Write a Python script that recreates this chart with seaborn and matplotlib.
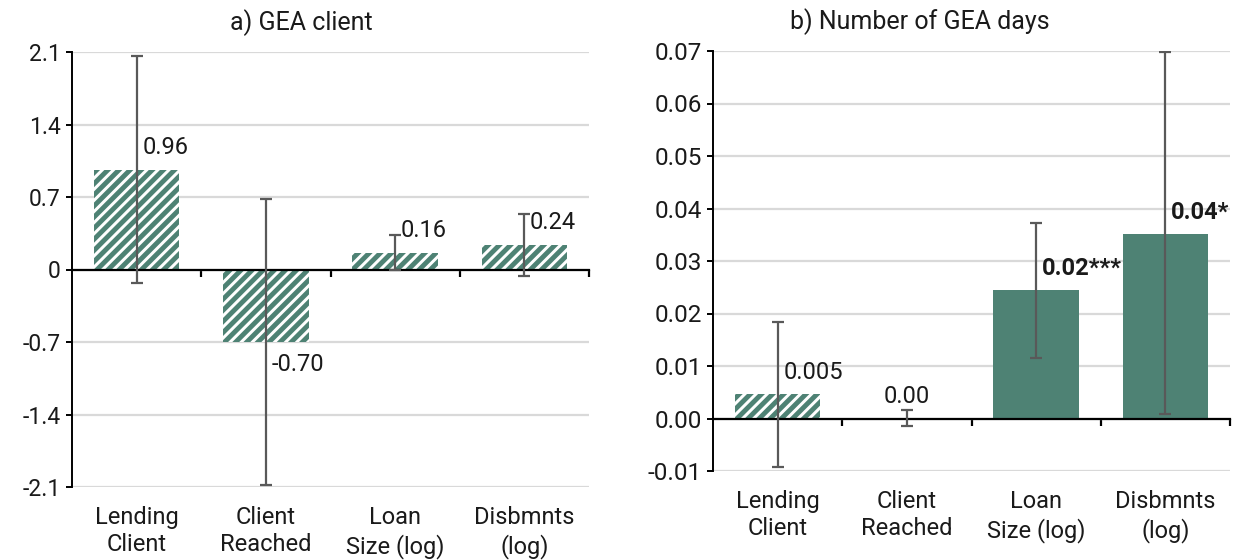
import matplotlib
matplotlib.use("Agg")
import matplotlib.pyplot as plt
import seaborn as sns
from matplotlib.ticker import FixedLocator, FuncFormatter

# Regression coefficients with 95% confidence bounds, by outcome
categories = ["Lending\nClient", "Client\nReached", "Loan\nSize (log)", "Disbmnts\n(log)"]

client_coef = [0.96, -0.70, 0.16, 0.24]
client_low = [-0.13, -2.08, 0.00, -0.06]
client_high = [2.06, 0.68, 0.33, 0.54]
client_stars = ["", "", "", ""]
client_decimals = [2, 2, 2, 2]
client_ticks = [-2.1, -1.4, -0.7, 0.0, 0.7, 1.4, 2.1]

days_coef = [0.0046, 0.0, 0.0244, 0.0351]
days_low = [-0.0092, -0.0015, 0.0115, 0.0008]
days_high = [0.0183, 0.0017, 0.0372, 0.0698]
days_stars = ["", "", "***", "*"]
days_decimals = [3, 2, 2, 2]
days_ticks = [-0.01, 0.0, 0.01, 0.02, 0.03, 0.04, 0.05, 0.06, 0.07]

TEAL = "#4e8274"
ERR = "#595959"
GRID = "#d9d9d9"
TEXT = "#1a1a1a"

sns.set_theme(style="white")
plt.rcParams["font.family"] = ["Roboto", "DejaVu Sans"]
plt.rcParams["hatch.linewidth"] = 3.5
plt.rcParams["text.color"] = TEXT

W, H = 1233, 560
fig = plt.figure(figsize=(W / 100, H / 100), dpi=100)


def px_box(x0, y0, x1, y1):
    return [x0 / W, 1 - y1 / H, (x1 - x0) / W, (y1 - y0) / H]


def panel(ax, coef, low, high, stars, decimals, ticks, tick_fmt, tick_size, lab_size, lab_off):
    n = len(coef)
    xs = list(range(n))
    sns.barplot(x=xs, y=coef, color=TEAL, width=0.66, saturation=1, ax=ax)
    for patch, s in zip(ax.patches, stars):
        patch.set_linewidth(0)
        if s == "":
            patch.set_facecolor("white")
            patch.set_edgecolor(TEAL)
            patch.set_hatch("///")
        else:
            patch.set_facecolor(TEAL)
            patch.set_edgecolor(TEAL)
    yerr = [[c - lo for c, lo in zip(coef, low)], [hi - c for c, hi in zip(coef, high)]]
    ax.errorbar(xs, coef, yerr=yerr, fmt="none", ecolor=ERR, elinewidth=1.6,
                capsize=4, capthick=1.6, zorder=4)

    ax.set_xlim(-0.5, n - 0.5)
    ax.set_ylim(ticks[0], ticks[-1])
    ax.yaxis.set_major_locator(FixedLocator(ticks))
    ax.yaxis.set_major_formatter(FuncFormatter(tick_fmt))
    ax.grid(axis="y", color=GRID, linewidth=1.6)
    ax.set_axisbelow(True)
    ax.tick_params(axis="y", which="major", left=True, direction="out", length=4,
                   width=1.4, color="black", labelsize=tick_size, labelcolor=TEXT, pad=4)

    # horizontal axis sits on the zero line, ticks mark category boundaries
    for side in ("top", "right"):
        ax.spines[side].set_visible(False)
    ax.spines["left"].set_color("black")
    ax.spines["left"].set_linewidth(1.4)
    ax.spines["bottom"].set_position(("data", 0))
    ax.spines["bottom"].set_color("black")
    ax.spines["bottom"].set_linewidth(1.6)
    ax.xaxis.set_major_locator(FixedLocator([]))
    ax.xaxis.set_minor_locator(FixedLocator([i + 0.5 for i in range(n)]))
    ax.tick_params(axis="x", which="minor", bottom=True, direction="out", length=5,
                   width=1.6, color="black", labelbottom=False)
    ax.set_xlabel("")

    for i, cat in enumerate(categories):
        ax.annotate(cat, xy=(i, 0), xycoords=("data", "axes fraction"),
                    xytext=(0, -13.5), textcoords="offset points", ha="center", va="top",
                    fontsize=lab_size, color=TEXT, linespacing=1.25)

    for i, (c, s, d) in enumerate(zip(coef, stars, decimals)):
        txt = f"{c:.{d}f}{s}"
        sign = -1 if c < 0 else 1
        if c == 0:
            ha, dx = "center", 0
        else:
            ha, dx = "left", 4
        ax.annotate(txt, xy=(i, c), xytext=(dx, sign * lab_off), textcoords="offset points",
                    ha=ha, va="center", fontsize=lab_size, color=TEXT,
                    fontweight="bold" if s else "normal", zorder=5)


ax1 = fig.add_axes(px_box(72, 52, 589, 487))
panel(ax1, client_coef, client_low, client_high, client_stars, client_decimals, client_ticks,
      lambda v, p: "0" if abs(v) < 1e-9 else f"{v:.1f}", 16.5, 17, 16)

ax2 = fig.add_axes(px_box(713, 51, 1230, 471))
panel(ax2, days_coef, days_low, days_high, days_stars, days_decimals, days_ticks,
      lambda v, p: f"{v:.2f}", 17.5, 17, 16)

fig.text(301 / W, 1 - 23 / H, "a) GEA client", ha="center", va="center", fontsize=18, color=TEXT)
fig.text(920 / W, 1 - 22 / H, "b) Number of GEA days", ha="center", va="center", fontsize=18, color=TEXT)

fig.savefig("out.png", dpi=100, facecolor="white")
